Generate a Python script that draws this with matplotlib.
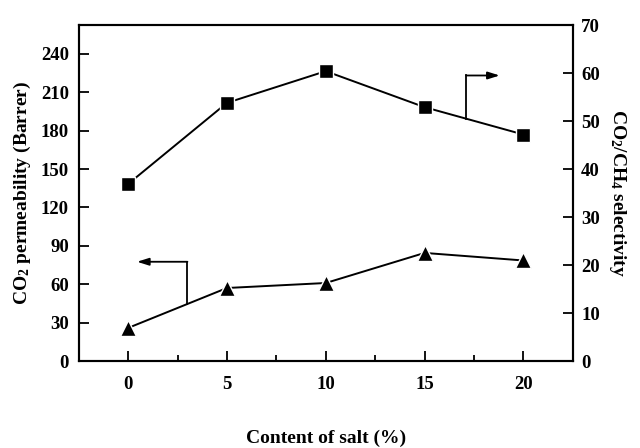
import numpy as np
import matplotlib
matplotlib.use("Agg")
import matplotlib.pyplot as plt

plt.rcParams['font.family'] = ['Liberation Serif', 'DejaVu Serif']
plt.rcParams['font.weight'] = 'bold'
plt.rcParams['mathtext.fontset'] = 'custom'
plt.rcParams['mathtext.rm'] = 'Liberation Serif:bold'
plt.rcParams['mathtext.it'] = 'Liberation Serif:bold'
plt.rcParams['mathtext.bf'] = 'Liberation Serif:bold'

# salt content (%)
salt = [0, 5, 10, 15, 20]
# CO2 permeability (Barrer), left axis, triangles
permeability = [25.9, 57.1, 61.0, 84.5, 78.6]
# CO2/CH4 selectivity, right axis, squares
selectivity = [36.9, 53.8, 60.4, 52.9, 47.2]

fig = plt.figure(figsize=(6.4, 4.48), dpi=100)
ax = fig.add_axes([0.123, 0.194, 0.772, 0.750])
ax2 = ax.twinx()

ax.plot(salt, permeability, color='black', lw=1.4, marker='^', ms=11,
        mfc='black', mec='white', mew=1.0)
ax2.plot(salt, selectivity, color='black', lw=1.4, marker='s', ms=10,
         mfc='black', mec='white', mew=1.0)

ax.set_xlim(-2.5, 22.5)
ax.set_ylim(0, 262.5)
ax2.set_ylim(0, 70)
ax.set_xticks([0, 5, 10, 15, 20])
ax.set_xticks([2.5, 7.5, 12.5, 17.5], minor=True)
ax.set_yticks(np.arange(0, 241, 30))
ax2.set_yticks(np.arange(0, 71, 10))

for a in (ax, ax2):
    a.tick_params(direction='in', length=7, width=1.3, labelsize=13.5)
    a.tick_params(which='minor', direction='in', length=4, width=1.3)
    for s in a.spines.values():
        s.set_linewidth(1.5)
ax.tick_params(axis='y', pad=7)
ax.tick_params(axis='x', pad=11)
ax2.tick_params(axis='y', pad=6)

ax.set_xlabel('Content of salt (%)', fontsize=14, fontweight='bold', labelpad=26)
ax.set_ylabel('CO$_2$ permeability (Barrer)', fontsize=14, fontweight='bold', labelpad=6)
ax2.set_ylabel('CO$_2$/CH$_4$ selectivity', fontsize=14, fontweight='bold',
               rotation=270, labelpad=20)

# arrow pointing to the left axis
xa = 3.0
ya = 77.6
yb = np.interp(xa, salt, permeability)
ax.plot([xa, xa], [yb, ya], color='black', lw=1.3)
ax.annotate('', xy=(0.45, ya), xytext=(xa, ya),
            arrowprops=dict(arrowstyle='-|>,head_length=0.7,head_width=0.22',
                            color='black', lw=1.3, shrinkA=0, shrinkB=0))

# arrow pointing to the right axis
xr = 17.1
yr = 59.5
yrb = np.interp(xr, salt, selectivity)
ax2.plot([xr, xr], [yrb, yr], color='black', lw=1.3)
ax2.annotate('', xy=(18.8, yr), xytext=(xr, yr),
             arrowprops=dict(arrowstyle='-|>,head_length=0.7,head_width=0.22',
                             color='black', lw=1.3, shrinkA=0, shrinkB=0))

fig.savefig('out.png', dpi=100)
